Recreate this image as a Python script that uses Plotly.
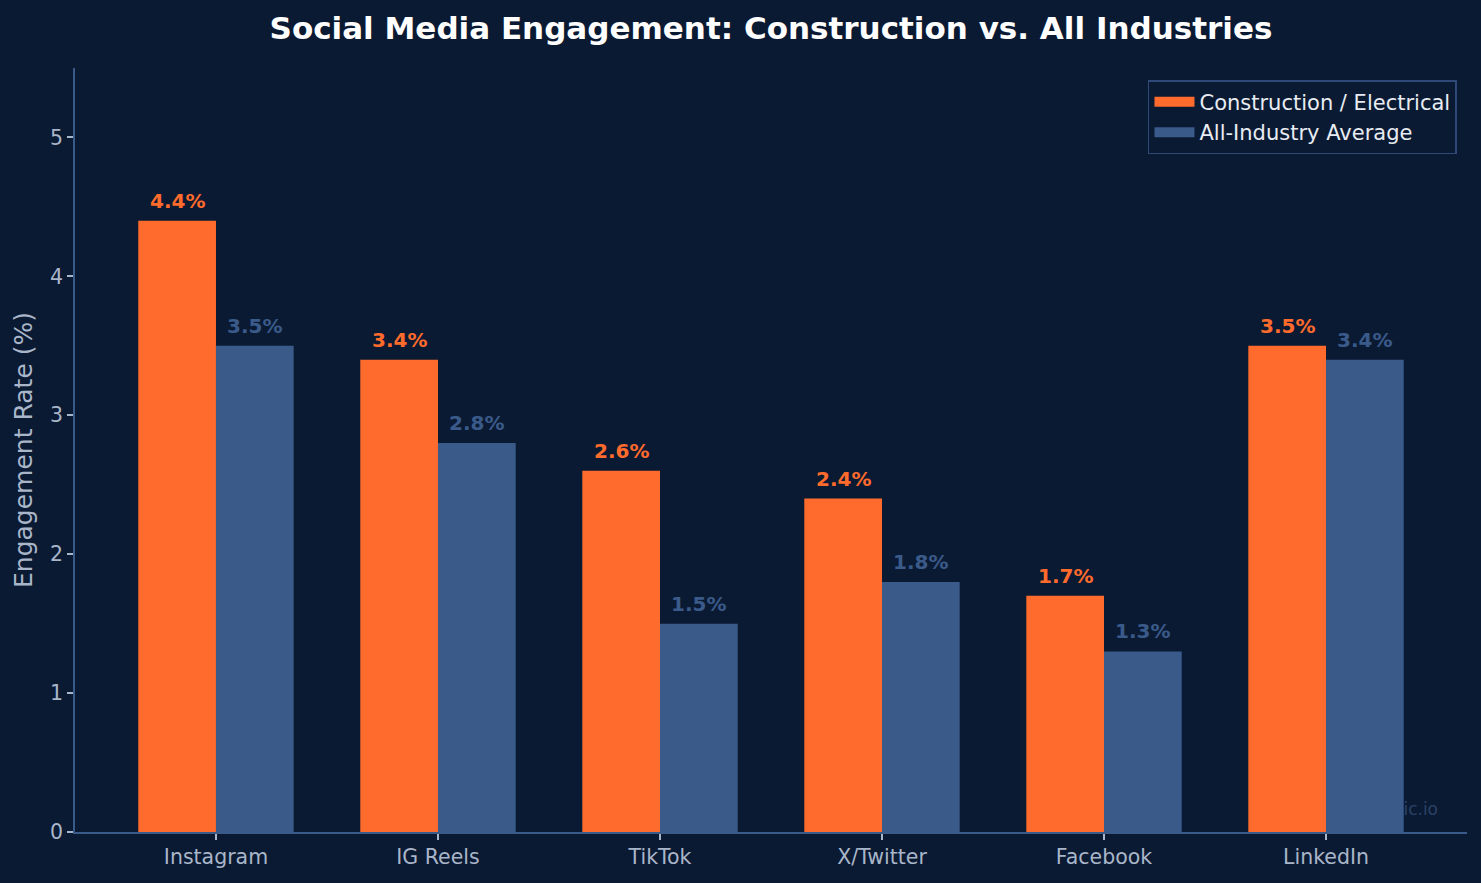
import plotly.graph_objects as go

platforms = ["Instagram", "IG Reels", "TikTok", "X/Twitter", "Facebook", "LinkedIn"]
construction = [4.4, 3.4, 2.6, 2.4, 1.7, 3.5]
all_industry = [3.5, 2.8, 1.5, 1.8, 1.3, 3.4]
y_ticks = [0, 1, 2, 3, 4, 5]
series_names = ["Construction / Electrical", "All-Industry Average"]

BG = "#0B1A33"
ORANGE = "#FF6B2C"
BLUE = "#3A5A8A"
AXIS = "#3A5A8A"
TICKC = "#A9B6C9"

x = list(range(len(platforms)))

fig = go.Figure()
fig.add_trace(go.Bar(x=x, y=construction, name=series_names[0], showlegend=False,
                     marker=dict(color=ORANGE, line=dict(width=0))))
fig.add_trace(go.Bar(x=x, y=all_industry, name=series_names[1], showlegend=False,
                     marker=dict(color=BLUE, line=dict(width=0))))
# legend entries drawn as thick line swatches (matplotlib-like rectangles)
for nm, col in zip(series_names, [ORANGE, BLUE]):
    fig.add_trace(go.Scatter(x=[None], y=[None], mode="lines", name=nm,
                             line=dict(color=col, width=15), hoverinfo="skip"))

annotations = []
for i, v in enumerate(construction):
    annotations.append(dict(x=i - 0.175, y=v, xref="x", yref="y", text=f"{v:.1f}%",
                            showarrow=False, yanchor="bottom", yshift=6,
                            font=dict(family="DejaVu Sans", size=20, color=ORANGE, weight="bold")))
for i, v in enumerate(all_industry):
    annotations.append(dict(x=i + 0.175, y=v, xref="x", yref="y", text=f"{v:.1f}%",
                            showarrow=False, yanchor="bottom", yshift=6,
                            font=dict(family="DejaVu Sans", size=20, color=BLUE, weight="bold")))

# faint watermark, drawn underneath the bars
shapes = [dict(type="rect", xref="paper", yref="paper", layer="below",
               x0=0.90, x1=0.9835, y0=0.012, y1=0.052,
               line=dict(width=0), fillcolor="rgba(0,0,0,0)",
               label=dict(text="ic.io", textposition="middle right",
                          font=dict(family="DejaVu Sans", size=17, color="#2A4166")))]

fig.update_layout(
    width=1481, height=883,
    paper_bgcolor=BG, plot_bgcolor=BG,
    margin=dict(l=75, r=14, t=68, b=51),
    barmode="group", bargap=0.3, bargroupgap=0,
    font=dict(family="DejaVu Sans", color=TICKC),
    title=dict(text="<b>Social Media Engagement: Construction vs. All Industries</b>",
               xref="paper", x=0.5, xanchor="center", y=0.968, yanchor="middle",
               font=dict(family="DejaVu Sans", size=31, color="#FFFFFF")),
    xaxis=dict(range=[-0.635, 5.635], tickmode="array", tickvals=x, ticktext=platforms,
               showgrid=False, zeroline=False, showline=True, linecolor=AXIS, linewidth=1.5,
               ticks="outside", ticklen=6, tickcolor=TICKC, tickwidth=1.5,
               tickfont=dict(size=20.5, color=TICKC)),
    yaxis=dict(range=[0, 5.5], tickmode="array", tickvals=y_ticks,
               showgrid=False, zeroline=False, showline=True, linecolor=AXIS, linewidth=1.5,
               ticks="outside", ticklen=6, tickcolor=TICKC, tickwidth=1.5,
               tickfont=dict(size=20.5, color=TICKC),
               title=dict(text="Engagement Rate (%)", font=dict(size=25, color=TICKC), standoff=10)),
    legend=dict(x=0.9928, xanchor="right", y=0.984, yanchor="top",
                bgcolor=BG, bordercolor="#2F4A78", borderwidth=1.5,
                font=dict(size=21, color="#E8ECF2"), itemwidth=40, tracegroupgap=0),
    annotations=annotations,
    shapes=shapes,
)

fig.write_html("out.html")
